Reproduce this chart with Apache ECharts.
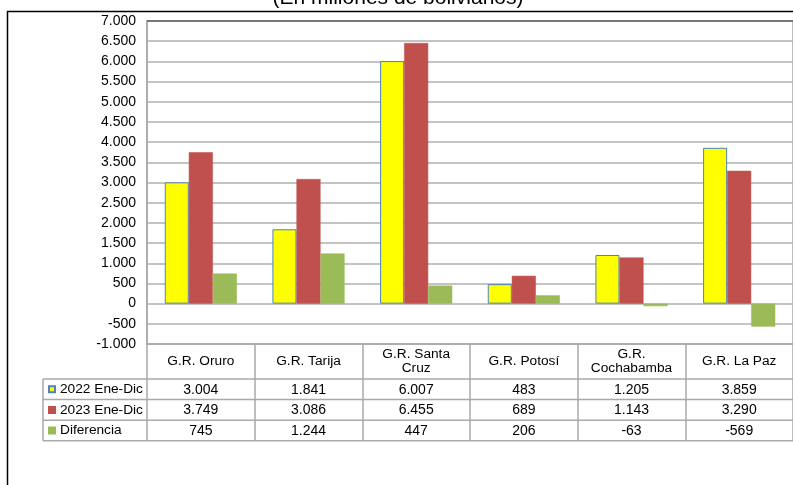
<!DOCTYPE html>
<html>
<head>
<meta charset="utf-8">
<script src="https://cdn.jsdelivr.net/npm/echarts@6/dist/echarts.min.js"></script>
<style>
html,body{margin:0;padding:0;background:#fff;}
#c{width:793px;height:485px;}
</style>
</head>
<body>
<div id="c"></div>
<script>
var titleText = '(En millones de bolivianos)';
var categories = ['G.R. Oruro', 'G.R. Tarija', 'G.R. Santa\nCruz', 'G.R. Potosí', 'G.R.\nCochabamba', 'G.R. La Paz'];
var seriesNames = ['2022 Ene-Dic', '2023 Ene-Dic', 'Diferencia'];
var values2022 = [3004, 1841, 6007, 483, 1205, 3859];
var values2023 = [3749, 3086, 6455, 689, 1143, 3290];
var valuesDiff = [745, 1244, 447, 206, -63, -569];
var yMin = -1000, yMax = 7000, yStep = 500;

var FONT = '"Liberation Sans", Arial, sans-serif';
function fmt(v) {
  var neg = v < 0; var s = String(Math.abs(v));
  s = s.replace(/\B(?=(\d{3})+(?!\d))/g, '.');
  return (neg ? '-' : '') + s;
}

var gridLeft = 147, gridTop = 21, gridW = 651.6, gridH = 323;
var rowH = 20.6, headerH = 35;
var tableTop = gridTop + gridH + headerH; // 379
var legendLeft = 43;
var lineColor = '#a9a9a9';

var chart = echarts.init(document.getElementById('c'), null, {renderer: 'canvas'});
var allSeries = [values2022, values2023, valuesDiff];
var colors = ['#ffff00', '#c0504d', '#9bbb59'];
var borders = ['#4f81bd', '#c0504d', '#9bbb59'];

var option = {
  backgroundColor: '#fff',
  animation: false,
  textStyle: {fontFamily: FONT},
  grid: {left: gridLeft, top: gridTop, width: gridW, height: gridH, show: true, borderColor: lineColor, borderWidth: 1.5, backgroundColor: '#fff', containLabel: false},
  legend: {
    orient: 'vertical', left: 48, top: tableTop, padding: 0, itemGap: 0,
    itemWidth: 6, itemHeight: 6, icon: 'rect', selectedMode: false,
    data: seriesNames,
    textStyle: {fontSize: 13.7, color: '#000', fontFamily: FONT, lineHeight: rowH}
  },
  xAxis: {
    type: 'category', data: categories,
    axisLine: {show: true, onZero: false, lineStyle: {color: lineColor, width: 1.5}},
    axisTick: {show: true, length: headerH + 3 * rowH, interval: 0, lineStyle: {color: lineColor, width: 1.5}},
    axisLabel: {interval: 0, margin: 17.5, verticalAlign: 'middle', color: '#000', fontSize: 13.7, lineHeight: 14, fontFamily: FONT}
  },
  yAxis: {
    type: 'value', min: yMin, max: yMax, interval: yStep,
    axisLine: {show: true, lineStyle: {color: lineColor, width: 1.5}},
    axisTick: {show: false},
    splitLine: {show: true, lineStyle: {color: '#b0b0b0', width: 1.6}},
    axisLabel: {margin: 11, color: '#000', fontSize: 14, fontFamily: FONT, formatter: function (v) { return fmt(v); }}
  },
  series: seriesNames.map(function (n, i) {
    var s = {
      name: n, type: 'bar', data: allSeries[i], barGap: '0%', barCategoryGap: '33%',
      itemStyle: {color: colors[i], borderColor: borders[i], borderWidth: i === 0 ? 1 : 0.5}
    };
    if (i === 0) {
      s.markLine = {silent: true, symbol: 'none', label: {show: false},
        lineStyle: {color: '#777', width: 2, type: 'solid'}, data: [{yAxis: yMax}]};
    }
    return s;
  })
};
chart.setOption(option);

var g = [];
// outer frame
g.push({type: 'rect', shape: {x: 7.5, y: 11.5, width: 820, height: 520}, style: {fill: null, stroke: '#000', lineWidth: 1.5}, z: 100});
// title
g.push({type: 'text', x: 398, y: 9, style: {text: titleText, font: '21px ' + FONT, fill: '#000', align: 'center', verticalAlign: 'bottom'}, z: 100});
// table lines
var xRight = 800;
for (var r = 0; r <= 3; r++) {
  var y = tableTop + r * rowH;
  g.push({type: 'line', shape: {x1: legendLeft, y1: y, x2: xRight, y2: y}, style: {stroke: lineColor, lineWidth: 1.5}, z: 50});
}
g.push({type: 'line', shape: {x1: legendLeft, y1: tableTop, x2: legendLeft, y2: tableTop + 3 * rowH}, style: {stroke: lineColor, lineWidth: 1.5}, z: 50});
// table values
for (var si = 0; si < allSeries.length; si++) {
  for (var ci = 0; ci < categories.length; ci++) {
    var px = chart.convertToPixel({xAxisIndex: 0}, ci);
    g.push({type: 'text', x: px, y: tableTop + si * rowH + rowH / 2 + 0.5,
      style: {text: fmt(allSeries[si][ci]), font: '14px ' + FONT, fill: '#000', align: 'center', verticalAlign: 'middle'}, z: 60});
  }
}
chart.setOption({graphic: g});
</script>
</body>
</html>
